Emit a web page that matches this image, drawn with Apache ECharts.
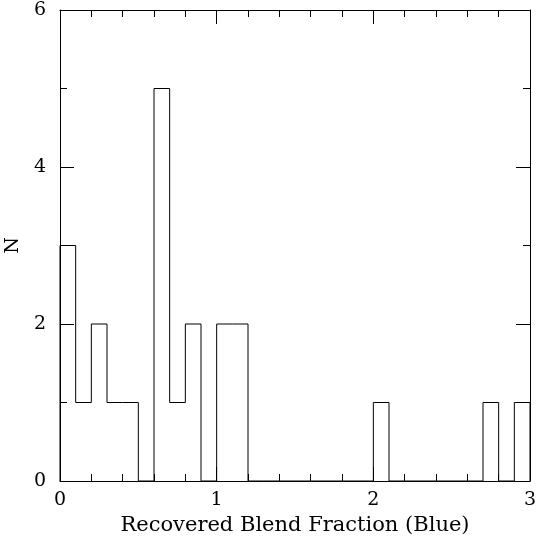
<!DOCTYPE html>
<html><head><meta charset="utf-8">
<script src="https://cdn.jsdelivr.net/npm/echarts@6/dist/echarts.min.js"></script>
<style>html,body{margin:0;padding:0;background:#fff}#c{width:540px;height:550px}</style>
</head><body><div id="c"></div>
<script>
var binLefts = [0.0,0.1,0.2,0.3,0.4,0.5,0.6,0.7,0.8,0.9,1.0,1.1,1.2,1.3,1.4,1.5,1.6,1.7,1.8,1.9,2.0,2.1,2.2,2.3,2.4,2.5,2.6,2.7,2.8,2.9];
var counts   = [3,1,2,1,1,0,5,1,2,0,2,2,0,0,0,0,0,0,0,0,1,0,0,0,0,0,0,1,0,1];
var binWidth = 0.1;
var xTitle = 'Recovered Blend Fraction (Blue)';
var yTitle = 'N';

var data = [[binLefts[0], 0]];
for (var i = 0; i < binLefts.length; i++) data.push([binLefts[i], counts[i]]);
data.push([binLefts[binLefts.length-1] + binWidth, 0]);

var font = 'DejaVu Serif';
var axisCommon = {
  axisLine: {show: true, onZero: false, lineStyle: {color: '#000', width: 1}},
  axisTick: {show: true, inside: true, length: 14, lineStyle: {color: '#000', width: 1}},
  splitLine: {show: false}
};
function ax(o) { return Object.assign({}, JSON.parse(JSON.stringify(axisCommon)), o); }

var chart = echarts.init(document.getElementById('c'), null, {renderer: 'canvas'});
chart.setOption({
  animation: false,
  backgroundColor: '#fff',
  grid: {left: 60, right: 10, top: 10, bottom: 69, containLabel: false, outerBoundsMode: 'none'},
  xAxis: [
    ax({type: 'value', min: 0, max: 3, interval: 1, position: 'bottom',
      minorTick: {show: true, splitNumber: 5, length: 7, lineStyle: {color: '#000'}},
      axisLabel: {color: '#000', fontFamily: font, fontSize: 19, margin: 10},
      name: xTitle, nameLocation: 'middle', nameGap: 33,
      nameTextStyle: {color: '#000', fontFamily: font, fontSize: 21}}),
    ax({type: 'value', min: 0, max: 3, interval: 1, position: 'top',
      minorTick: {show: true, splitNumber: 5, length: 7, lineStyle: {color: '#000'}},
      axisLabel: {show: false}})
  ],
  yAxis: [
    ax({type: 'value', min: 0, max: 6, interval: 2, position: 'left',
      minorTick: {show: true, splitNumber: 2, length: 7, lineStyle: {color: '#000'}},
      axisLabel: {color: '#000', fontFamily: font, fontSize: 19, margin: 14},
      name: yTitle, nameLocation: 'middle', nameGap: 34, nameRotate: 90,
      nameTextStyle: {color: '#000', fontFamily: font, fontSize: 19}}),
    ax({type: 'value', min: 0, max: 6, interval: 2, position: 'right',
      minorTick: {show: true, splitNumber: 2, length: 7, lineStyle: {color: '#000'}},
      axisLabel: {show: false}})
  ],
  series: [{
    type: 'line', step: 'end', data: data, symbol: 'none',
    lineStyle: {color: '#000', width: 1}, clip: false
  }]
});
</script></body></html>
